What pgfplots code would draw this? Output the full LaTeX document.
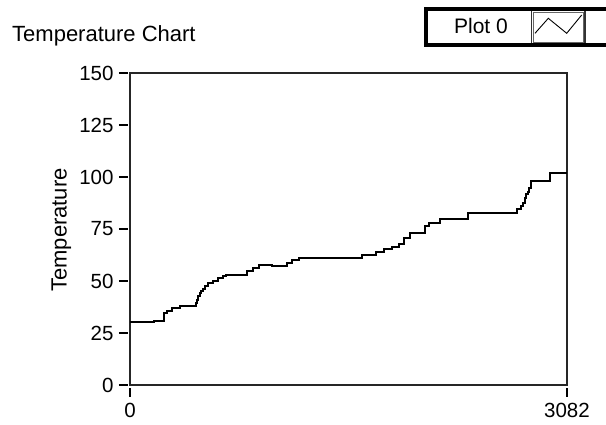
\documentclass[border=0pt]{standalone}
\usepackage{fontspec}
\setmainfont{Liberation Sans}
\usepackage{pgfplots}
\pgfplotsset{compat=1.18}

\pgfplotstableread{
x     y
0     30.1
170   30.8
240   34.5
262   35.8
297   36.9
353   38.2
464   39.3
474   41.0
483   42.6
495   44.0
502   45.0
516   46.3
530   47.4
551   49.0
587   50.2
622   51.4
657   52.6
679   53.1
827   54.7
869   56.3
912   57.9
1004  57.4
1108  58.7
1143  59.9
1195  61.0
1638  62.7
1732  63.9
1788  65.2
1850  66.3
1897  67.9
1930  70.5
1972  73.1
2078  76.5
2107  78.1
2184  80.0
2382  82.9
2729  84.5
2757  86.0
2771  87.7
2785  90.0
2792  91.8
2806  93.0
2816  94.7
2828  97.9
2962  101.8
3082  101.8
}\tempdata

\begin{document}
\begin{tikzpicture}[x=1pt,y=1pt]
  \useasboundingbox (0,0) rectangle (606,424);

  % title
  \node[anchor=base west, inner sep=0pt, font=\fontsize{22}{26}\selectfont]
    at (12,382.5) {Temperature Chart};

  % legend box (cut off at the right, as in the original)
  \fill[white] (424,377) rectangle (640,417);
  \draw[line width=1.2pt, black!80] (531.5,380) -- (531.5,413);
  \draw[line width=1.2pt, black!80] (585,380) -- (585,413);
  \draw[line width=0.8pt, black!60] (533,381.5) rectangle (583.5,411.5);
  \draw[line width=4pt, black] (426,379) rectangle (640,415);
  \node[anchor=base, inner sep=0pt, font=\fontsize{21}{25}\selectfont]
    at (481,390.3) {Plot 0};
  \draw[line width=0.9pt, black] (535,390.7) -- (548.3,405.7) -- (566.7,390.7) -- (581.7,409);

  % y label
  \node[rotate=90, anchor=base, inner sep=0pt, font=\fontsize{22}{26}\selectfont]
    at (66.5,194) {Temperature};

  \begin{axis}[
    at={(130pt,39pt)}, anchor=south west,
    scale only axis, width=437pt, height=312pt,
    xmin=0, xmax=3082, ymin=0, ymax=150,
    xtick={0,3082}, xticklabels={0,3082},
    ytick={0,25,50,75,100,125,150},
    /pgf/number format/assume math mode=true,
    tick label style={font=\fontsize{20.5}{24}\selectfont},
    xtick pos=bottom, ytick pos=left,
    tick align=outside, major tick length=8.5pt,
    every tick/.style={black, line width=1.3pt},
    every x tick/.append style={yshift=-3pt},
    every y tick/.append style={xshift=-2.5pt},
    yticklabel style={xshift=-4.5pt},
    xticklabel style={yshift=-6pt},
    axis line style={line width=1.6pt, black!85},
    clip=false,
  ]
    \addplot[const plot, black, line width=2pt] table[x=x, y=y] {\tempdata};
  \end{axis}
\end{tikzpicture}
\end{document}
